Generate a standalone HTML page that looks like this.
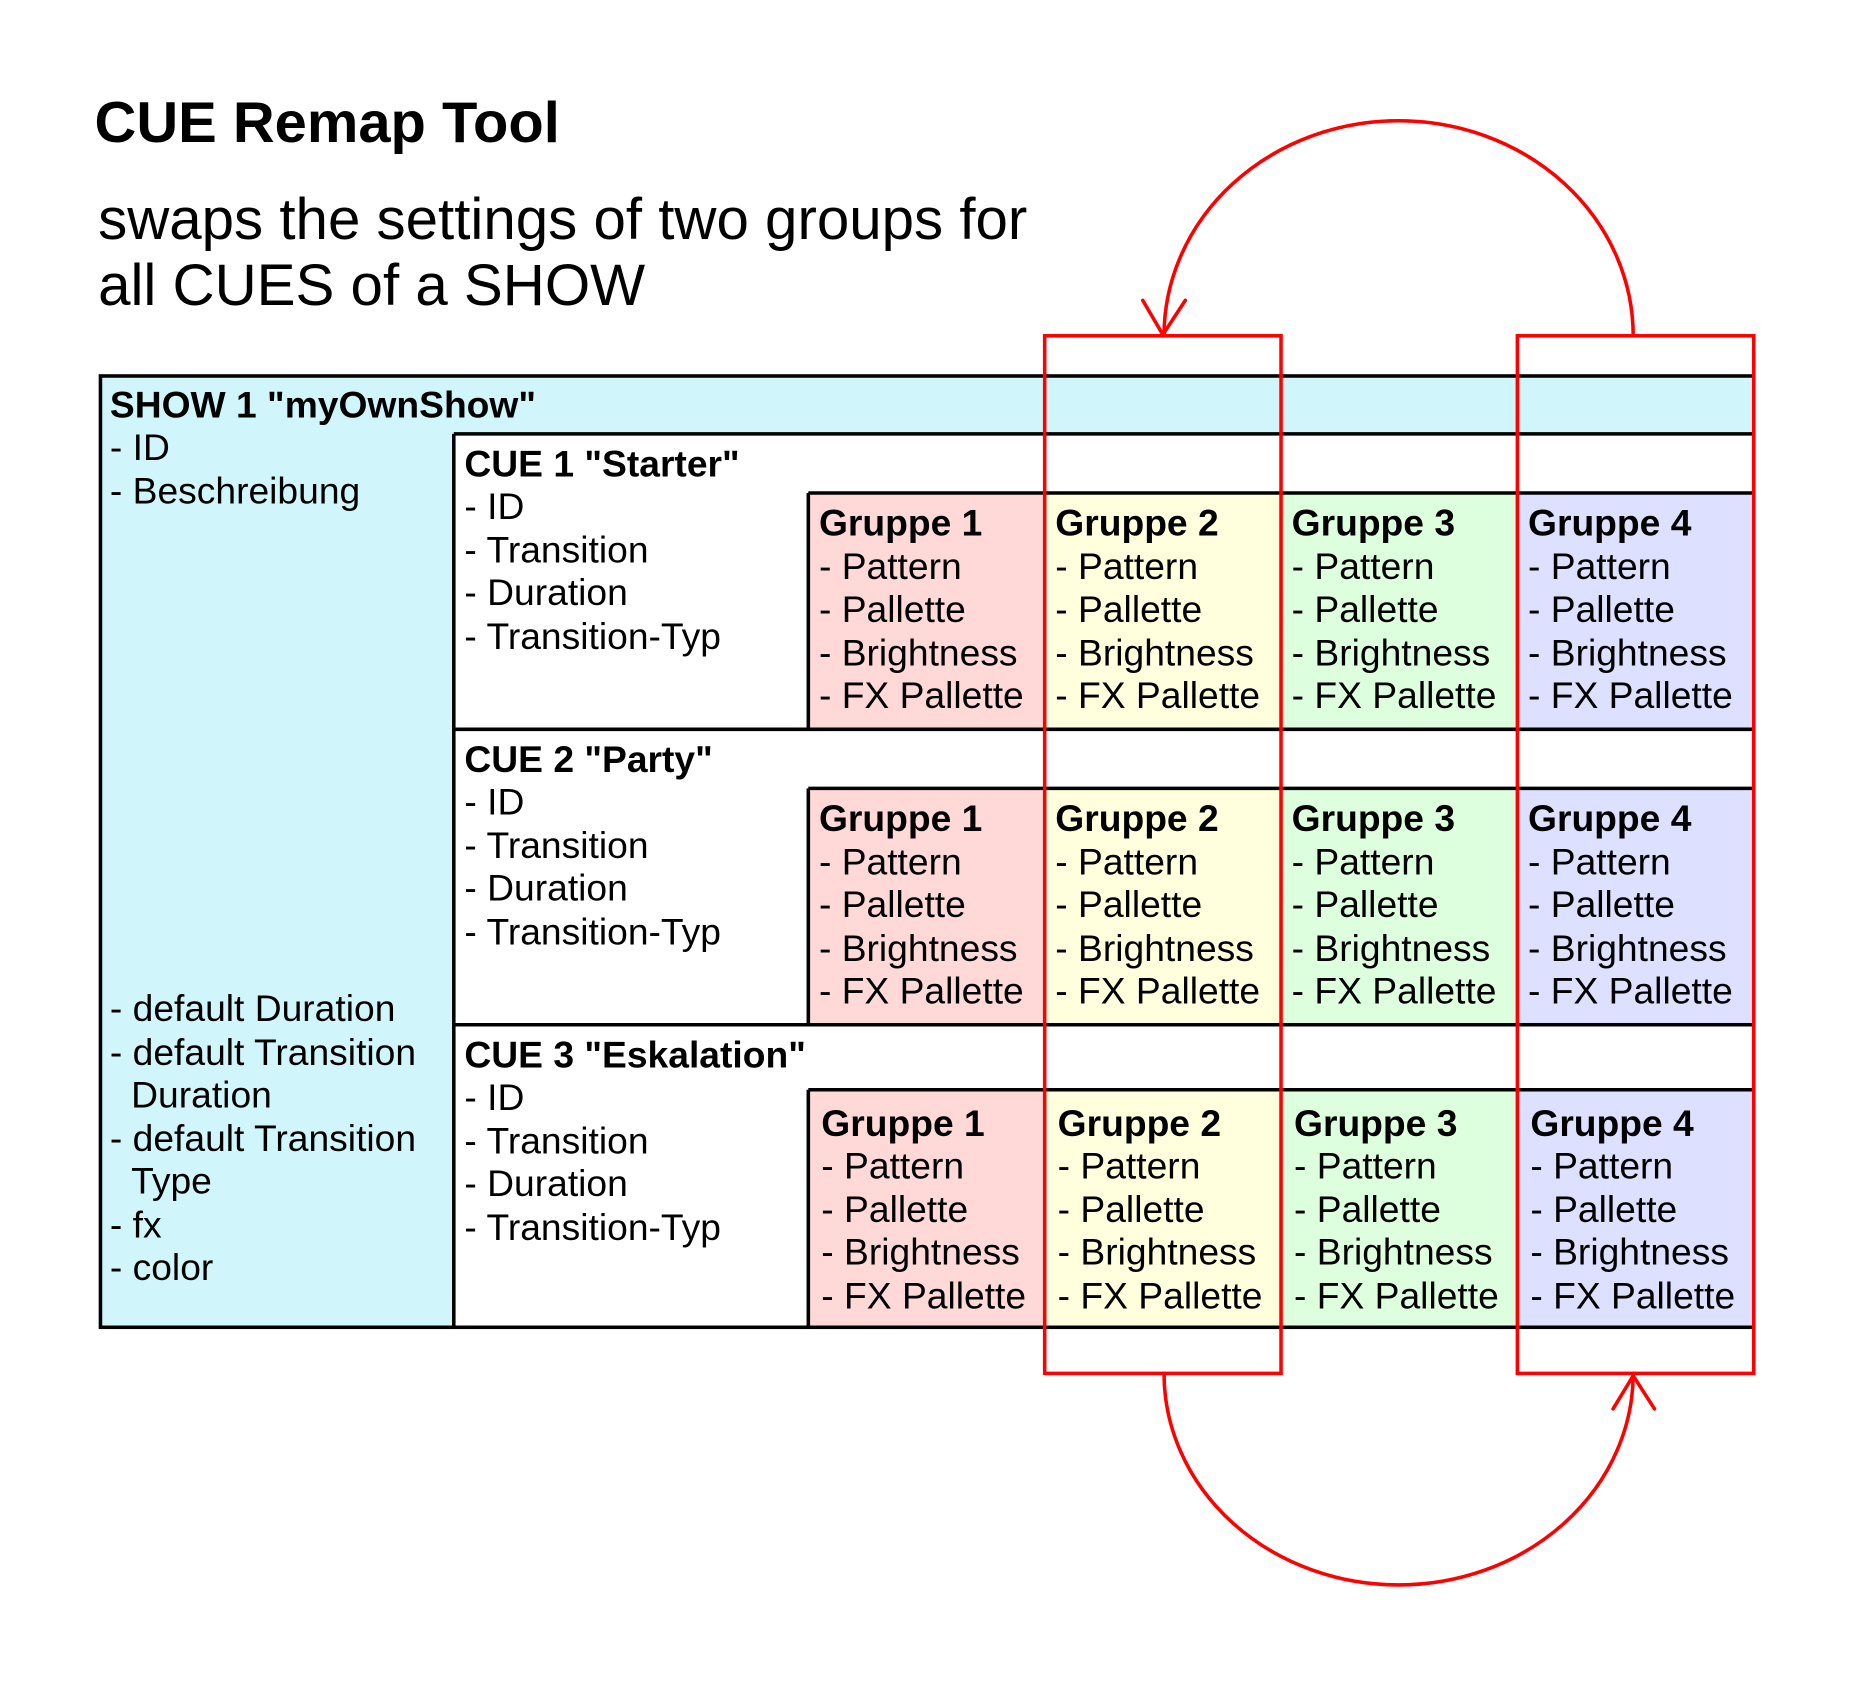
<!DOCTYPE html>
<html><head><meta charset="utf-8"><style>
html,body{margin:0;padding:0;background:#fff}
svg{display:block}
text{font-family:"Liberation Sans",Arial,sans-serif;font-size:31.5px;fill:#000}
.b{font-weight:bold}
</style></head><body>
<svg width="1853" height="1695" viewBox="0 0 1568 1434" xmlns="http://www.w3.org/2000/svg">
<rect width="1568" height="1434" fill="#fff"/>
<text x="80" y="120" class="b" style="font-size:49px">CUE Remap Tool</text>
<text x="83" y="202" style="font-size:49.3px">swaps the settings of two groups for</text>
<text x="83" y="258" style="font-size:49.3px">all CUES of a SHOW</text>

<rect x="85" y="318" width="1399" height="805" fill="#d0f6fc"/>
<rect x="384" y="367" width="1100" height="756" fill="#fff"/>
<g>
<rect x="684" y="417" width="200" height="200" fill="#ffd8d8"/>
<rect x="884" y="417" width="200" height="200" fill="#ffffdd"/>
<rect x="1084" y="417" width="200" height="200" fill="#ddffdd"/>
<rect x="1284" y="417" width="200" height="200" fill="#dde0ff"/>
<rect x="684" y="667" width="200" height="200" fill="#ffd8d8"/>
<rect x="884" y="667" width="200" height="200" fill="#ffffdd"/>
<rect x="1084" y="667" width="200" height="200" fill="#ddffdd"/>
<rect x="1284" y="667" width="200" height="200" fill="#dde0ff"/>
<rect x="684" y="922" width="200" height="201" fill="#ffd8d8"/>
<rect x="884" y="922" width="200" height="201" fill="#ffffdd"/>
<rect x="1084" y="922" width="200" height="201" fill="#ddffdd"/>
<rect x="1284" y="922" width="200" height="201" fill="#dde0ff"/>
</g>
<g stroke="#000" stroke-width="3" fill="none">
<rect x="85" y="318" width="1399" height="805"/>
<line x1="384" y1="367" x2="1484" y2="367"/>
<line x1="384" y1="367" x2="384" y2="1123"/>
<line x1="384" y1="617" x2="1484" y2="617"/>
<line x1="384" y1="867" x2="1484" y2="867"/>
<line x1="684" y1="417" x2="1484" y2="417"/>
<line x1="684" y1="667" x2="1484" y2="667"/>
<line x1="684" y1="922" x2="1484" y2="922"/>
<line x1="684" y1="417" x2="684" y2="617"/>
<line x1="684" y1="667" x2="684" y2="867"/>
<line x1="684" y1="922" x2="684" y2="1123"/>
</g>

<text x="93" y="353" class="b">SHOW 1 "myOwnShow"</text>
<text x="93" y="389">- ID</text>
<text x="93" y="426">- Beschreibung</text>
<text x="93" y="864">- default Duration</text>
<text x="93" y="901">- default Transition</text>
<text x="111" y="937">Duration</text>
<text x="93" y="974">- default Transition</text>
<text x="111" y="1010">Type</text>
<text x="93" y="1047">- fx</text>
<text x="93" y="1083">- color</text>

<text x="393" y="403" class="b">CUE 1 "Starter"</text>
<text x="393" y="439">- ID</text>
<text x="393" y="476">- Transition</text>
<text x="393" y="512">- Duration</text>
<text x="393" y="549">- Transition-Typ</text>

<text x="393" y="653" class="b">CUE 2 "Party"</text>
<text x="393" y="689">- ID</text>
<text x="393" y="726">- Transition</text>
<text x="393" y="762">- Duration</text>
<text x="393" y="799">- Transition-Typ</text>

<text x="393" y="903" class="b">CUE 3 "Eskalation"</text>
<text x="393" y="939">- ID</text>
<text x="393" y="976">- Transition</text>
<text x="393" y="1012">- Duration</text>
<text x="393" y="1049">- Transition-Typ</text>

<g>
<text x="693" y="453" class="b">Gruppe 1</text><text x="693" y="490">- Pattern</text><text x="693" y="526">- Pallette</text><text x="693" y="563">- Brightness</text><text x="693" y="599">- FX Pallette</text>
<text x="893" y="453" class="b">Gruppe 2</text><text x="893" y="490">- Pattern</text><text x="893" y="526">- Pallette</text><text x="893" y="563">- Brightness</text><text x="893" y="599">- FX Pallette</text>
<text x="1093" y="453" class="b">Gruppe 3</text><text x="1093" y="490">- Pattern</text><text x="1093" y="526">- Pallette</text><text x="1093" y="563">- Brightness</text><text x="1093" y="599">- FX Pallette</text>
<text x="1293" y="453" class="b">Gruppe 4</text><text x="1293" y="490">- Pattern</text><text x="1293" y="526">- Pallette</text><text x="1293" y="563">- Brightness</text><text x="1293" y="599">- FX Pallette</text>
</g>
<g>
<text x="693" y="703" class="b">Gruppe 1</text><text x="693" y="740">- Pattern</text><text x="693" y="776">- Pallette</text><text x="693" y="813">- Brightness</text><text x="693" y="849">- FX Pallette</text>
<text x="893" y="703" class="b">Gruppe 2</text><text x="893" y="740">- Pattern</text><text x="893" y="776">- Pallette</text><text x="893" y="813">- Brightness</text><text x="893" y="849">- FX Pallette</text>
<text x="1093" y="703" class="b">Gruppe 3</text><text x="1093" y="740">- Pattern</text><text x="1093" y="776">- Pallette</text><text x="1093" y="813">- Brightness</text><text x="1093" y="849">- FX Pallette</text>
<text x="1293" y="703" class="b">Gruppe 4</text><text x="1293" y="740">- Pattern</text><text x="1293" y="776">- Pallette</text><text x="1293" y="813">- Brightness</text><text x="1293" y="849">- FX Pallette</text>
</g>
<g>
<text x="695" y="961" class="b">Gruppe 1</text><text x="695" y="997">- Pattern</text><text x="695" y="1034">- Pallette</text><text x="695" y="1070">- Brightness</text><text x="695" y="1107">- FX Pallette</text>
<text x="895" y="961" class="b">Gruppe 2</text><text x="895" y="997">- Pattern</text><text x="895" y="1034">- Pallette</text><text x="895" y="1070">- Brightness</text><text x="895" y="1107">- FX Pallette</text>
<text x="1095" y="961" class="b">Gruppe 3</text><text x="1095" y="997">- Pattern</text><text x="1095" y="1034">- Pallette</text><text x="1095" y="1070">- Brightness</text><text x="1095" y="1107">- FX Pallette</text>
<text x="1295" y="961" class="b">Gruppe 4</text><text x="1295" y="997">- Pattern</text><text x="1295" y="1034">- Pallette</text><text x="1295" y="1070">- Brightness</text><text x="1295" y="1107">- FX Pallette</text>
</g>

<g stroke="#ff0000" stroke-width="3" fill="none" stroke-linecap="round">
<rect x="884" y="284" width="200" height="878"/>
<rect x="1284" y="284" width="200" height="878"/>
<path d="M1382,284 A198.5,182 0 0 0 985,284"/>
<path d="M967,254 L984,283 L1003,254"/>
<path d="M985,1162 A198.5,179 0 0 0 1382,1162"/>
<path d="M1365,1192 L1382,1164 L1400,1192"/>
</g>
</svg>
</body></html>
